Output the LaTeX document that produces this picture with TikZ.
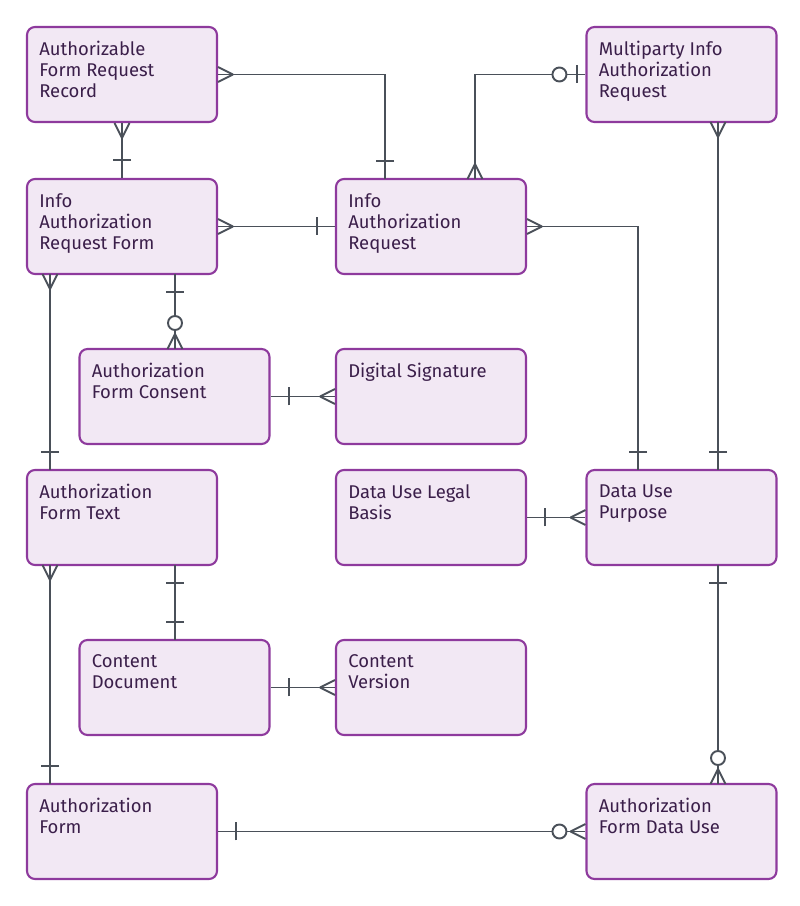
\documentclass[tikz,border=0pt]{standalone}
\usepackage{fontspec}
\setmainfont{Fira Sans}
\usetikzlibrary{calc}

\definecolor{boxfill}{HTML}{F2E8F4}
\definecolor{boxline}{HTML}{8E3A9D}
\definecolor{boxtext}{HTML}{3B1F4A}
\definecolor{linkcol}{HTML}{4A5059}

% markers: #1 = point on the box edge, #2 = outward direction
\newcommand{\crowend}[2]{\begin{scope}[shift={#1},rotate=#2]
	\draw[link] (0.3,0)--(0,0.15) (0.3,0)--(0,-0.15);\end{scope}}
\newcommand{\oneend}[2]{\begin{scope}[shift={#1},rotate=#2]
	\draw[link] (0.36,-0.18)--(0.36,0.18);\end{scope}}
\newcommand{\zeromany}[2]{\crowend{#1}{#2}\begin{scope}[shift={#1},rotate=#2]
	\draw[link,fill=white] (0.52,0) circle (0.14);\end{scope}}
\newcommand{\zeroone}[2]{\begin{scope}[shift={#1},rotate=#2]
	\draw[link] (0.16,-0.18)--(0.16,0.18);
	\draw[link,fill=white] (0.52,0) circle (0.14);\end{scope}}

\begin{document}
\begin{tikzpicture}[
	entity/.style={draw=boxline,fill=boxfill,line width=1.2pt,rounded corners=0.16cm,
		minimum width=3.8cm,minimum height=1.9cm},
	title/.style={anchor=north west,align=left,text=boxtext,inner sep=0pt,
		font=\fontsize{10.5}{12}\selectfont},
	link/.style={draw=linkcol,line width=1.1pt}]
	\useasboundingbox (0,0) rectangle (16,18.12);

	\node[entity,label={[title,xshift=0.26cm,yshift=-0.3cm]north west:Authorizable\\Form Request\\Record}] (afrr) at (2.44,16.63) {};
	\node[entity,label={[title,xshift=0.26cm,yshift=-0.3cm]north west:Multiparty Info\\Authorization\\Request}] (miar) at (13.63,16.63) {};
	\node[entity,label={[title,xshift=0.26cm,yshift=-0.3cm]north west:Info\\Authorization\\Request Form}] (iarf) at (2.44,13.59) {};
	\node[entity,label={[title,xshift=0.26cm,yshift=-0.3cm]north west:Info\\Authorization\\Request}] (iar) at (8.62,13.59) {};
	\node[entity,label={[title,xshift=0.26cm,yshift=-0.3cm]north west:Authorization\\Form Consent}] (afc) at (3.49,10.19) {};
	\node[entity,label={[title,xshift=0.26cm,yshift=-0.3cm]north west:Digital Signature}] (ds) at (8.62,10.19) {};
	\node[entity,label={[title,xshift=0.26cm,yshift=-0.3cm]north west:Authorization\\Form Text}] (aft) at (2.44,7.77) {};
	\node[entity,label={[title,xshift=0.26cm,yshift=-0.3cm]north west:Data Use Legal\\Basis}] (dulb) at (8.62,7.77) {};
	\node[entity,label={[title,xshift=0.26cm,yshift=-0.3cm]north west:Data Use\\Purpose}] (dup) at (13.63,7.77) {};
	\node[entity,label={[title,xshift=0.26cm,yshift=-0.3cm]north west:Content\\Document}] (cd) at (3.49,4.37) {};
	\node[entity,label={[title,xshift=0.26cm,yshift=-0.3cm]north west:Content\\Version}] (cv) at (8.62,4.37) {};
	\node[entity,label={[title,xshift=0.26cm,yshift=-0.3cm]north west:Authorization\\Form}] (af) at (2.44,1.49) {};
	\node[entity,label={[title,xshift=0.26cm,yshift=-0.3cm]north west:Authorization\\Form Data Use}] (afdu) at (13.63,1.49) {};

	% end points of the links
	\coordinate (iarTopA) at (7.7,14.54);
	\coordinate (iarTopB) at (9.5,14.54);
	\coordinate (iarRight) at (iar.east);
	\coordinate (dupTopA) at (12.76,8.72);
	\coordinate (dupTopB) at (14.36,8.72);
	\coordinate (miarBot) at (14.36,15.68);
	\coordinate (iarfBotA) at (1.0,12.64);
	\coordinate (iarfBotB) at (3.5,12.64);
	\coordinate (afcTop) at (3.5,11.14);
	\coordinate (aftTop) at (1.0,8.72);
	\coordinate (aftBotA) at (1.0,6.82);
	\coordinate (aftBotB) at (3.5,6.82);
	\coordinate (cdTop) at (3.5,5.32);
	\coordinate (afTop) at (1.0,2.44);
	\coordinate (dupBot) at (14.36,6.82);
	\coordinate (afduTop) at (14.36,2.44);

	\draw[link] (afrr.east) -| (iarTopA);
	\draw[link] (afrr.south) -- (iarf.north);
	\draw[link] (miar.west) -| (iarTopB);
	\draw[link] (iarf.east) -- (iar.west);
	\draw[link] (iarRight) -| (dupTopA);
	\draw[link] (miarBot) -- (dupTopB);
	\draw[link] (iarfBotA) -- (aftTop);
	\draw[link] (iarfBotB) -- (afcTop);
	\draw[link] (afc.east) -- (ds.west);
	\draw[link] (dulb.east) -- (dup.west);
	\draw[link] (aftBotA) -- (afTop);
	\draw[link] (aftBotB) -- (cdTop);
	\draw[link] (cd.east) -- (cv.west);
	\draw[link] (dupBot) -- (afduTop);
	\draw[link] (af.east) -- (afdu.west);

	\crowend{(afrr.east)}{0} \oneend{(iarTopA)}{90}
	\crowend{(afrr.south)}{-90} \oneend{(iarf.north)}{90}
	\zeroone{(miar.west)}{180} \crowend{(iarTopB)}{90}
	\crowend{(iarf.east)}{0} \oneend{(iar.west)}{180}
	\crowend{(iarRight)}{0} \oneend{(dupTopA)}{90}
	\crowend{(miarBot)}{-90} \oneend{(dupTopB)}{90}
	\crowend{(iarfBotA)}{-90} \oneend{(aftTop)}{90}
	\oneend{(iarfBotB)}{-90} \zeromany{(afcTop)}{90}
	\oneend{(afc.east)}{0} \crowend{(ds.west)}{180}
	\oneend{(dulb.east)}{0} \crowend{(dup.west)}{180}
	\crowend{(aftBotA)}{-90} \oneend{(afTop)}{90}
	\oneend{(aftBotB)}{-90} \oneend{(cdTop)}{90}
	\oneend{(cd.east)}{0} \crowend{(cv.west)}{180}
	\oneend{(dupBot)}{-90} \zeromany{(afduTop)}{90}
	\oneend{(af.east)}{0} \zeromany{(afdu.west)}{180}
\end{tikzpicture}
\end{document}
